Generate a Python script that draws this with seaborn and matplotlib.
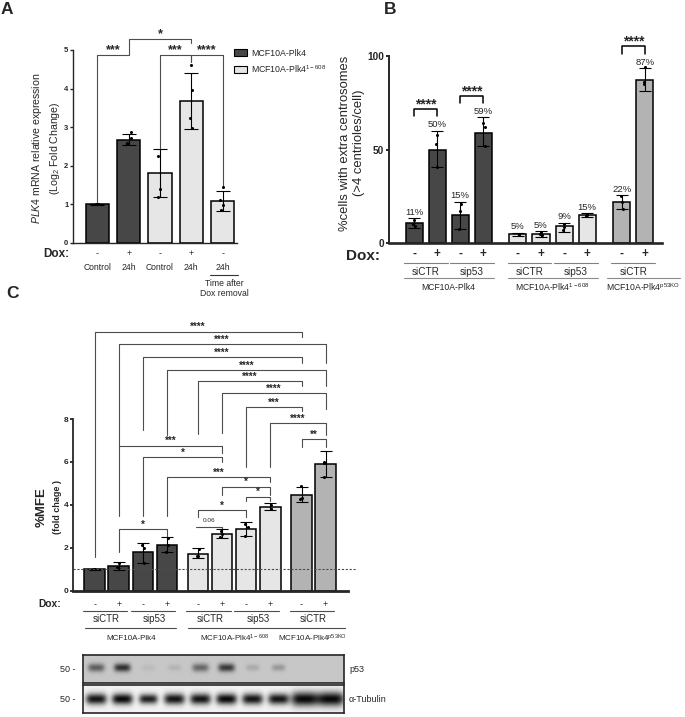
import numpy as np
import pandas as pd
import matplotlib
matplotlib.use("Agg")
import matplotlib.pyplot as plt
import seaborn as sns
from matplotlib import transforms
from matplotlib.patches import Patch

sns.set_style("ticks")
plt.rcParams['font.family'] = ['Liberation Sans', 'DejaVu Sans']
plt.rcParams['mathtext.fontset'] = 'custom'
plt.rcParams['mathtext.rm'] = 'Liberation Sans'
plt.rcParams['mathtext.it'] = 'Liberation Sans:italic'
plt.rcParams['mathtext.bf'] = 'Liberation Sans:bold'

# ---------------- data ----------------
LINE_NAMES = {"plk4": "MCF10A-Plk4",
              "plk4_608": r"MCF10A-Plk4$^{\mathregular{1-608}}$",
              "p53ko": r"MCF10A-Plk4$^{\mathregular{p53KO}}$"}
PALETTE = {"plk4": "#474747", "plk4_608": "#e6e6e6", "p53ko": "#b3b3b3"}

# panel A: PLK4 mRNA
a_line = ["plk4", "plk4", "plk4_608", "plk4_608", "plk4_608"]
a_dox = ["-", "+", "-", "+", "-"]
a_cond = ["Control", "24h", "Control", "24h", "24h"]
a_mean = [1.0, 2.68, 1.82, 3.68, 1.09]
a_sd = [0.01, 0.15, 0.62, 0.72, 0.26]
a_pts = [[1.0, 1.0, 1.0, 1.0], [2.88, 2.72, 2.6, 2.56], [2.25, 1.4, 1.2],
         [4.6, 3.97, 3.25, 2.97], [1.45, 1.12, 0.98, 0.85]]
a_sig = [(0, 1, 4.87, 1.07, 4.87, "***"), (1, 3, 5.28, 4.87, 5.17, "*"),
         (2, 3, 4.87, 2.46, 4.7, "***"), (3, 4, 4.87, 4.7, 1.45, "****")]

# panel B: extra centrosomes
b_line = ["plk4"] * 4 + ["plk4_608"] * 4 + ["p53ko"] * 2
b_si = ["siCTR", "siCTR", "sip53", "sip53", "siCTR", "siCTR", "sip53", "sip53", "siCTR", "siCTR"]
b_dox = ["-", "+"] * 5
b_mean = [11, 50, 15, 59, 5, 5, 9, 15, 22, 87]
b_lo = [8.4, 40.7, 7.5, 51.8, 4.1, 3.2, 6.3, 13.9, 18.2, 81.2]
b_hi = [13.4, 60.2, 22.3, 67.5, 5.7, 6.6, 11.1, 16.0, 25.9, 93.7]
b_pts = [[12.5, 10.5, 9.0], [58.0, 53.0, 41.0], [21.0, 17.5, 7.5], [64.0, 62.0, 52.0],
         [5.0, 5.0, 5.0], [6.2, 5.0, 4.3], [10.5, 8.5, 7.0], [15.5, 15.0, 14.6],
         [25.0, 22.0, 18.5], [94.0, 86.0, 85.0]]
b_sig = [(0, 1, 71.7, 68.1, 68.1, "****"), (2, 3, 78.8, 75.1, 75.1, "****"),
         (8, 9, 105.3, 101.0, 101.0, "****")]

# panel C: mammosphere formation efficiency
c_line = b_line
c_si = b_si
c_dox = b_dox
c_mean = [1.0, 1.15, 1.79, 2.14, 1.71, 2.64, 2.86, 3.89, 4.46, 5.92]
c_lo = [0.98, 0.96, 1.31, 1.80, 1.51, 2.44, 2.55, 3.76, 4.15, 5.28]
c_hi = [1.02, 1.35, 2.24, 2.49, 2.00, 2.87, 3.19, 4.07, 4.85, 6.52]
c_pts = [[1.0, 1.0, 1.0], [1.28, 1.1, 1.0], [2.13, 1.97, 1.31], [2.44, 2.13, 1.82],
         [1.93, 1.62, 1.6], [2.8, 2.65, 2.48], [3.1, 2.95, 2.55], [4.0, 3.82, 3.8],
         [4.87, 4.3, 4.27], [6.0, 5.95, 5.3]]
c_sig = [(0, 8, 12.07, 1.58, 11.81, "****"), (1, 9, 11.48, 6.76, 10.6, "****"),
         (2, 8, 10.87, 7.5, 10.6, "****"), (3, 9, 10.28, 7.26, 9.55, "****"),
         (4, 8, 9.78, 7.3, 9.55, "****"), (5, 9, 9.2, 7.35, 8.45, "****"),
         (6, 8, 8.57, 5.78, 8.39, "***"), (7, 9, 7.8, 5.78, 7.26, "****"),
         (8, 9, 7.05, 6.71, 6.71, "**"), (1, 5, 6.76, 3.48, 6.43, "***"),
         (2, 5, 6.24, 3.48, 6.01, "*"), (3, 7, 5.31, 3.48, 5.08, "***"),
         (5, 7, 4.85, 4.46, 4.46, "*"), (6, 7, 4.38, 4.18, 4.18, "*"),
         (4, 6, 3.76, 3.42, 3.42, "*"), (4, 5, 2.98, 2.98, 2.83, "0.06"),
         (1, 3, 2.87, 1.82, 2.49, "*")]

# western blot: band intensity (0 = none, 1 = saturated) and relative band width per lane
wb_p53 = [0.55, 0.8, 0.06, 0.1, 0.5, 0.75, 0.15, 0.25, 0.0, 0.0]
wb_p53_w = [1.0, 1.0, 0.8, 0.8, 1.0, 1.0, 0.8, 0.8, 1.0, 1.0]
wb_tub = [0.95, 1.0, 0.9, 0.95, 0.95, 1.0, 0.95, 0.95, 1.0, 1.0]
wb_tub_w = [1.0, 1.0, 0.9, 1.0, 1.0, 1.0, 1.0, 1.0, 1.3, 1.3]

# ---------------- figure ----------------
W, H = 685, 717
fig = plt.figure(figsize=(W / 100, H / 100), dpi=100)


def add_ax(l, t, r, b):
    return fig.add_axes([l / W, 1 - b / H, (r - l) / W, (b - t) / H])


def fy(py):
    return 1 - py / H


def row_text(ax, x, py, s, **kw):
    tr = transforms.blended_transform_factory(ax.transData, fig.transFigure)
    ax.text(x, fy(py), s, transform=tr, ha="center", va="center", clip_on=False, **kw)


def row_line(ax, x0, x1, py, color="0.35", lw=0.8):
    tr = transforms.blended_transform_factory(ax.transData, fig.transFigure)
    ax.plot([x0, x1], [fy(py), fy(py)], transform=tr, color=color, lw=lw, clip_on=False)


def draw_bars(ax, pos, mean, lo, hi, pts, lines, width, lw=1.1, cap=4):
    df = pd.DataFrame({"pos": pos, "val": mean, "line": lines})
    sns.barplot(data=df, x="pos", y="val", hue="line", palette=PALETTE, native_scale=True,
                dodge=False, width=width, errorbar=None, edgecolor="black", linewidth=lw,
                legend=False, ax=ax)
    ax.errorbar(pos, mean, yerr=[np.array(mean) - np.array(lo), np.array(hi) - np.array(mean)],
                fmt="none", ecolor="black", elinewidth=0.8, capsize=cap, capthick=0.8, zorder=5)
    pdf = pd.DataFrame({"pos": np.repeat(pos, [len(p) for p in pts]), "val": np.concatenate(pts)})
    sns.stripplot(data=pdf, x="pos", y="val", native_scale=True, jitter=0.08, color="black",
                  size=2.2, ax=ax, zorder=6)


def bracket(ax, xa, xb, y, ya, yb, label, fs, off, bold=True, color="0.3", lw=0.8):
    ax.plot([xa, xa, xb, xb], [ya, y, y, yb], color=color, lw=lw, clip_on=False)
    ax.annotate(label, xy=((xa + xb) / 2, y), xytext=(0, off), textcoords="offset points",
                ha="center", va="baseline", fontsize=fs,
                fontweight="bold" if bold else "normal", annotation_clip=False)


def style_axis(ax, ylim, yticks, xlim, lw_left, lw_bottom, tick_fs):
    ax.set_ylim(*ylim)
    ax.set_xlim(*xlim)
    ax.set_yticks(yticks)
    ax.set_xticks([])
    ax.set_xlabel("")
    ax.set_ylabel("")
    sns.despine(ax=ax)
    ax.spines["left"].set_linewidth(lw_left)
    ax.spines["bottom"].set_linewidth(lw_bottom)
    ax.tick_params(axis="y", width=lw_left, length=2.5, pad=0.8, labelsize=tick_fs)
    for t in ax.get_yticklabels():
        t.set_fontweight("bold")


np.random.seed(3)

# ---------------- panel A ----------------
axA = add_ax(73, 50, 237, 243)
a_pos = np.arange(len(a_mean), dtype=float)
a_lo = np.array(a_mean) - np.array(a_sd)
a_hi = np.array(a_mean) + np.array(a_sd)
draw_bars(axA, a_pos, a_mean, a_lo, a_hi, a_pts, a_line, 0.74, cap=5)
for i, j, y, ya, yb, lab in a_sig:
    bracket(axA, a_pos[i], a_pos[j], y, ya, yb, lab, 9, 1.5)
style_axis(axA, (0, 5), [0, 1, 2, 3, 4, 5], (-0.78, 4.46), 1.0, 1.0, 5.5)

fig.text(56 / W, fy(254), "Dox:", ha="center", va="center", fontsize=8.5, fontweight="bold")
for x, d, c in zip(a_pos, a_dox, a_cond):
    row_text(axA, x, 254, d, fontsize=6.5)
    row_text(axA, x, 268, c, fontsize=6.2)
row_line(axA, a_pos[-1] - 0.4, a_pos[-1] + 0.5, 274.5, color="0.2")
row_text(axA, a_pos[-1] + 0.05, 283.5, "Time after", fontsize=6.2)
row_text(axA, a_pos[-1] + 0.05, 293, "Dox removal", fontsize=6.2)
fig.text(46 / W, fy(148), "$\\it{PLK4}$ mRNA relative expression\n(Log$_{\\mathregular{2}}$ Fold Change)",
         rotation=90, ha="center", va="center", fontsize=7.6, multialignment="center",
         linespacing=1.45)
handles = [Patch(facecolor=PALETTE[k], edgecolor="black", lw=0.8, label=LINE_NAMES[k])
           for k in ["plk4", "plk4_608"]]
fig.legend(handles=handles, loc="upper left", bbox_to_anchor=(232 / W, fy(47)), frameon=False,
           fontsize=6.3, handlelength=1.5, handleheight=0.75, handletextpad=0.5,
           labelspacing=0.6, borderpad=0.2, borderaxespad=0)

# ---------------- panel B ----------------
axB = add_ax(389, 56, 662, 243.3)
b_grp = pd.factorize(pd.Series(b_line))[0]
b_pos = np.arange(len(b_mean)) + 0.5 * b_grp
draw_bars(axB, b_pos, b_mean, b_lo, b_hi, b_pts, b_line, 0.74)
for i, j, y, ya, yb, lab in b_sig:
    bracket(axB, b_pos[i], b_pos[j], y, ya, yb, lab, 10, 0.5, color="black", lw=1.1)
for x, m, h in zip(b_pos, b_mean, b_hi):
    axB.annotate(f"{m}%", xy=(x, h), xytext=(0, 2.3), textcoords="offset points",
                 ha="center", va="baseline", fontsize=6.8, annotation_clip=False)
style_axis(axB, (0, 100), [0, 50, 100], (-1.085, 10.74), 1.4, 1.9, 7.3)

fig.text(363 / W, fy(255.5), "Dox:", ha="center", va="center", fontsize=11, fontweight="bold")
for x, d in zip(b_pos, b_dox):
    row_text(axB, x, 254, d, fontsize=8.5, fontweight="bold")
for k in range(0, len(b_pos), 2):
    row_line(axB, b_pos[k] - 0.45, b_pos[k + 1] + 0.45, 263.3, color="0.5")
    row_text(axB, (b_pos[k] + b_pos[k + 1]) / 2, 271.7, b_si[k], fontsize=7.2)
for g, key in enumerate(["plk4", "plk4_608", "p53ko"]):
    sel = b_pos[b_grp == g]
    x0, x1 = sel.min() - 0.45, sel.max() + 0.45
    if key == "p53ko":
        x0, x1 = sel.min() - 0.65, sel.max() + 1.5
    row_line(axB, x0, x1, 278.3, color="0.55")
    row_text(axB, (x0 + x1) / 2, 287.3, LINE_NAMES[key], fontsize=6.2)
fig.text(352 / W, fy(143), "%cells with extra centrosomes\n(>4 centrioles/cell)", rotation=90,
         ha="center", va="center", fontsize=9.4, multialignment="center", linespacing=1.25)

# ---------------- panel C ----------------
axC = add_ax(73, 419, 348, 590.7)
c_grp = pd.factorize(pd.Series(c_line))[0]
c_pos = np.arange(len(c_mean)) + 0.3 * c_grp
draw_bars(axC, c_pos, c_mean, c_lo, c_hi, c_pts, c_line, 0.85, cap=4.5)
for i, j, y, ya, yb, lab in c_sig:
    if lab == "0.06":
        bracket(axC, c_pos[i] - 0.1, c_pos[j], y, ya, yb, lab, 4.6, 3.5, bold=False)
    else:
        bracket(axC, c_pos[i], c_pos[j], y, ya, yb, lab, 7, 1.0)
axC.plot([-0.9, 10.9], [1, 1], ls=(0, (2, 1.5)), color="0.3", lw=0.8, clip_on=False, zorder=7)
style_axis(axC, (0, 8), [0, 2, 4, 6, 8], (-0.9, 10.53), 1.3, 2.0, 6)

fig.text(50 / W, fy(604.3), "Dox:", ha="center", va="center", fontsize=7.4, fontweight="bold")
for x, d in zip(c_pos, c_dox):
    row_text(axC, x, 604.3, d, fontsize=6.5)
for k in range(0, len(c_pos), 2):
    row_line(axC, c_pos[k] - 0.5, c_pos[k + 1] + 0.35, 610.7, color="0.3")
    row_text(axC, (c_pos[k] + c_pos[k + 1]) / 2, 619.3, c_si[k], fontsize=7)
for g, key in enumerate(["plk4", "plk4_608", "p53ko"]):
    sel = c_pos[c_grp == g]
    x0, x1 = sel.min() - 0.4, sel.max() + 0.4
    if key == "p53ko":
        x0, x1 = sel.min() - 0.9, sel.max() + 0.8
    row_line(axC, x0, x1, 628.3, color="0.3")
    row_text(axC, (x0 + x1) / 2, 638, LINE_NAMES[key], fontsize=5.8)
fig.text(42 / W, fy(507), "%MFE", rotation=90, ha="center", va="center", fontsize=9.5,
         fontweight="bold")
fig.text(57 / W, fy(507), "(fold chage )", rotation=90, ha="center", va="center", fontsize=6.5,
         fontweight="bold")


# ---------------- western blot ----------------
def blot(l, t, r, b, inten, widths, bg, sx, sy, cy, name):
    ax = add_ax(l, t, r, b)
    nx, ny = 400, 60
    xx, yy = np.meshgrid(np.linspace(0, 1, nx), np.linspace(0, 1, ny))
    img = np.full((ny, nx), bg)
    for i, (v, wf) in enumerate(zip(inten, widths)):
        cx = 0.05 + 0.1 * i
        prof = np.exp(-(((xx - cx) / (sx * wf)) ** 4) - (((yy - cy) / (sy * wf)) ** 2))
        img = img - v * prof * (bg - 0.03)
    ax.imshow(np.clip(img, 0, 1), cmap="gray", vmin=0, vmax=1, aspect="auto",
              extent=(0, 1, 1, 0), interpolation="bilinear")
    ax.set_xticks([])
    ax.set_yticks([])
    for s in ax.spines.values():
        s.set_visible(True)
        s.set_linewidth(1.2)
    mid = (t + b) / 2
    fig.text(75 / W, fy(mid), "50 -", ha="right", va="center", fontsize=6.5)
    fig.text(349 / W, fy(mid), name, ha="left", va="center", fontsize=6.5)
    return ax


blot(83, 655, 344, 683, wb_p53, wb_p53_w, 0.78, 0.032, 0.15, 0.45, "p53")
blot(83, 685, 344, 713, wb_tub, wb_tub_w, 0.95, 0.04, 0.2, 0.5, "\u03b1-Tubulin")

# ---------------- panel letters ----------------
fig.text(1 / W, fy(9), "A", fontsize=12.5, fontweight="bold", va="center")
fig.text(384 / W, fy(9), "B", fontsize=12.5, fontweight="bold", va="center")
fig.text(6 / W, fy(293), "C", fontsize=12.5, fontweight="bold", va="center")

fig.savefig("out.png", dpi=100)
